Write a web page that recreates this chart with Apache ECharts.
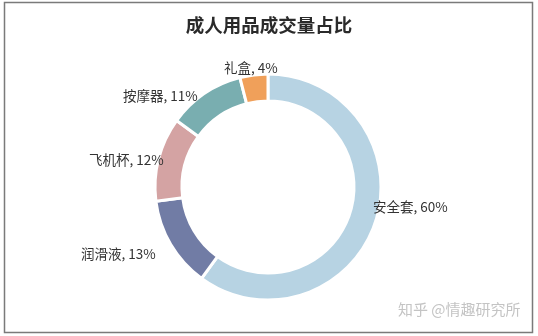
<!DOCTYPE html>
<html><head><meta charset="utf-8">
<script src="https://cdn.jsdelivr.net/npm/echarts@6/dist/echarts.min.js"></script>
<style>html,body{margin:0;padding:0;background:#fff}#c{width:538px;height:336px}</style>
</head><body><div id="c"></div>
<script>
const titleText = '成人用品成交量占比';
const categories = ['安全套', '润滑液', '飞机杯', '按摩器', '礼盒'];
const values = [60, 13, 12, 11, 4];
const colors = ['#b7d3e3', '#717ca5', '#d4a3a3', '#79aeb0', '#f0a05a'];
const watermark = '知乎 @情趣研究所';

const labelPos = [
  {x: 373, y: 207},
  {x: 81, y: 254},
  {x: 89, y: 160},
  {x: 123, y: 96},
  {x: 224, y: 68}
];

const chart = echarts.init(document.getElementById('c'));
chart.setOption({
  backgroundColor: '#fff',
  animation: false,
  title: {
    text: titleText, left: 'center', top: 11,
    textStyle: {fontFamily: 'Noto Sans CJK SC', fontSize: 18.5, fontWeight: 'bold', color: '#2a2a2a'}
  },
  graphic: [
    {type: 'rect', shape: {x: 4.5, y: 2.5, width: 528, height: 330}, style: {fill: 'none', stroke: '#7a7a7a', lineWidth: 1.5}},
    {type: 'text', left: 398, top: 302, style: {text: watermark, fontFamily: 'Noto Sans CJK SC', fontSize: 15, fill: '#c4c4c4'}}
  ],
  series: [{
    type: 'pie',
    center: [268, 187],
    radius: [86, 113],
    startAngle: 90,
    clockwise: true,
    data: categories.map((n, i) => ({name: n, value: values[i], itemStyle: {color: colors[i]}})),
    itemStyle: {borderColor: '#fff', borderWidth: 3},
    label: {
      show: true,
      formatter: p => p.name + ', ' + p.value + '%',
      fontFamily: 'Noto Sans CJK SC', fontSize: 13.5, color: '#333'
    },
    labelLine: {show: false},
    labelLayout: p => ({x: labelPos[p.dataIndex].x, y: labelPos[p.dataIndex].y, align: 'left', verticalAlign: 'middle'})
  }]
});
</script></body></html>
